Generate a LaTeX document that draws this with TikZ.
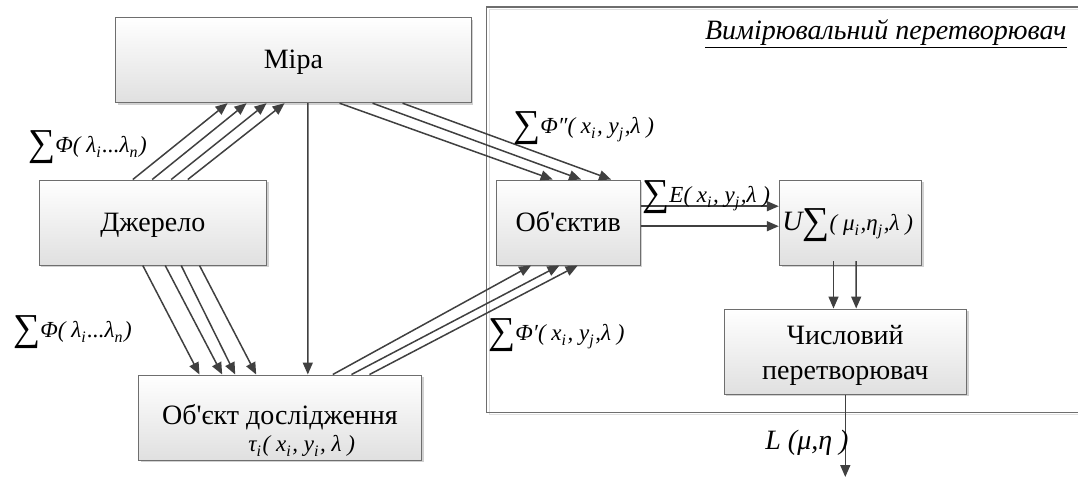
\documentclass[tikz,border=0pt]{standalone}
\usepackage{fontspec}
\setmainfont{Liberation Serif}
\usetikzlibrary{arrows.meta,shadows,calc}
\definecolor{linegray}{HTML}{404040}
\definecolor{edgegray}{HTML}{6E6E6E}
\definecolor{fillbot}{HTML}{E0E0E0}
\newcommand\bigsum{\raisebox{-1.6pt}{\fontsize{19}{19}\selectfont\upshape ∑}}
\newcommand\lowx[1]{\raisebox{-0.5ex}{\fontsize{8}{8}\selectfont #1}\kern0.8pt}
\newcommand\apos{\textquotesingle}
\begin{document}
\begin{tikzpicture}[x=0.5pt,y=-0.5pt,
  box/.style={draw=edgegray, line width=0.5pt, top color=white, bottom color=fillbot,
    drop shadow={shadow xshift=1.2pt, shadow yshift=-1.2pt, fill=black, opacity=0.18},
    inner sep=0pt, font=\fontsize{14}{17.5}\selectfont, text height=11.5pt, text depth=3pt},
  boxtext/.style={inner sep=0pt, font=\fontsize{14}{17.5}\selectfont, align=center},
  flow/.style={draw=linegray, line width=0.75pt, -{Triangle[length=6pt,width=5pt]}},
  lbl/.style={inner sep=0pt, anchor=base west, font=\fontsize{11.5}{13}\selectfont\itshape},
]
\useasboundingbox (0,0) rectangle (1078,479);

% frame of the measuring converter (open on the right)
\coordinate (frtr) at (1078,7);
\coordinate (frtl) at (486.7,7);
\coordinate (frbl) at (486.7,412.3);
\coordinate (frbr) at (1078,412.3);
\draw[gray!25, line width=0.5pt] ($(frtr)+(0,2.5)$) -- ($(frtl)+(2.5,2.5)$) -- ($(frbl)+(2.5,2.5)$) -- ($(frbr)+(0,2.5)$);
\draw[edgegray, line width=0.6pt] (frtr) -- (frtl) -- (frbl) -- (frbr);
\node[anchor=base east, inner sep=0pt, font=\fontsize{14}{16}\selectfont\itshape] (title) at (1067,39) {\underline{Вимірювальний перетворювач}};

% blocks
\node[box, minimum width=177.6pt, minimum height=42.7pt] (mira) at (293.4,60) {Міра};
\node[box, minimum width=113.8pt, minimum height=42.5pt] (dzh) at (152.8,222.5) {Джерело};
\node[box, minimum width=141.7pt, minimum height=42.5pt] (obj) at (280,417.5) {};
\node[boxtext, anchor=base] (objname) at (280,424) {Об\apos{}єкт дослідження};
\node[box, minimum width=71.7pt, minimum height=42.5pt] (lens) at (568.3,222.5) {Об\apos{}єктив};
\node[box, minimum width=71.2pt, minimum height=42.5pt] (conv) at (850.5,222.5) {};
\node[box, minimum width=121.3pt, minimum height=42.5pt] (num) at (845.3,351.5) {};
\node[boxtext] (numtext) at (845.3,355) {Числовий\\перетворювач};

% flows
\foreach \a/\b in {94.3/112.3, 113.7/131.3, 132.7/151.3, 149.3/169.3}
  \draw[flow] ($(dzh.north west)+(\a,0)$) -- ($(mira.south west)+(\b,0)$);
\foreach \a/\b in {104.3/61.7, 126.7/84.4, 142.7/97.4, 161/118.4}
  \draw[flow] ($(dzh.south west)+(\a,0)$) -- ($(obj.north west)+(\b,0)$);
\draw[flow] ($(mira.south west)+(192.6,0)$) -- ($(obj.north west)+(170,0)$);
\foreach \a/\b in {224.3/56.6, 257.3/85, 287.3/115}
  \draw[flow] ($(mira.south west)+(\a,0)$) -- ($(lens.north west)+(\b,0)$);
\foreach \a/\b in {195/35, 213.7/63.3, 231.7/81.6}
  \draw[flow] ($(obj.north west)+(\a,0)$) -- ($(lens.south west)+(\b,0)$);
\foreach \a in {26.7, 46.7}
  \draw[flow] ($(lens.north east)+(0,\a)$) -- ($(conv.north west)+(0,\a)$);
\foreach \a/\b in {54.7/110, 77.4/132.7}
  \draw[flow] ($(conv.south west)+(\a,-4.3)$) -- ($(num.north west)+(\b,0)$);
\coordinate (out) at (845.3,477);
\draw[flow] (num.south) -- (out);

% signal labels
\node[lbl] (l1) at (28,152) {\bigsum Φ( λ\lowx{i}...λ\lowx{n} )};
\node[lbl] (l2) at (13,337) {\bigsum Φ( λ\lowx{i}...λ\lowx{n} )};
\node[lbl] (l3) at (513,133) {\bigsum Φ″( x\lowx{i}, y\lowx{j},λ )};
\node[lbl] (l4) at (642,202) {\bigsum E( x\lowx{i}, y\lowx{j},λ )};
\node[lbl] (l5) at (488,340) {\bigsum Φ′( x\lowx{i}, y\lowx{j},λ )};
\node[lbl] (l6) at (782,230) {{\fontsize{14}{14}\selectfont U}\bigsum( μ\lowx{i},η\lowx{j},λ )};
\node[lbl] (l7) at (765,449) {{\fontsize{14}{14}\selectfont L (μ,η )}};
\node[lbl] (tau) at (248,451) {τ\lowx{i}( x\lowx{i}, y\lowx{i}, λ )};
\end{tikzpicture}
\end{document}
